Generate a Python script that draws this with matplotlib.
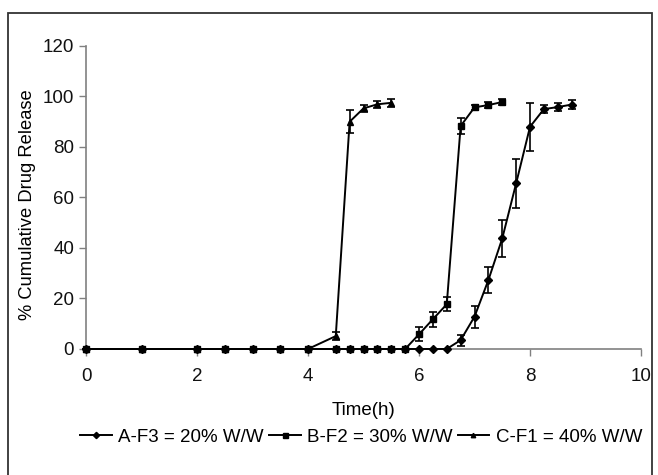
import matplotlib
matplotlib.use('Agg')
import matplotlib.pyplot as plt
from matplotlib.patches import Rectangle

plt.rcParams['font.family'] = ['Liberation Sans', 'DejaVu Sans']

##
##  d a t a
##
t_a = [0, 1, 2, 2.5, 3, 3.5, 4, 4.5, 4.75, 5, 5.25, 5.5, 5.75, 6, 6.25, 6.5,
       6.75, 7, 7.25, 7.5, 7.75, 8, 8.25, 8.5, 8.75]
rel_a = [0, 0, 0, 0, 0, 0, 0, 0, 0, 0, 0, 0, 0, 0, 0, 0,
         3.5, 12.8, 27.3, 43.8, 65.6, 88.0, 95.0, 95.8, 96.8]
err_a = [0, 0, 0, 0, 0, 0, 0, 0, 0, 0, 0, 0, 0, 0, 0, 0,
         2.2, 4.4, 5.2, 7.4, 9.6, 9.5, 1.5, 1.5, 1.8]

t_b = [0, 1, 2, 2.5, 3, 3.5, 4, 4.5, 4.75, 5, 5.25, 5.5, 5.75, 6, 6.25, 6.5,
       6.75, 7, 7.25, 7.5]
rel_b = [0, 0, 0, 0, 0, 0, 0, 0, 0, 0, 0, 0, 0,
         5.8, 11.8, 17.7, 88.3, 95.7, 96.6, 97.8]
err_b = [0, 0, 0, 0, 0, 0, 0, 0, 0, 0, 0, 0, 0,
         2.8, 3.0, 2.7, 3.0, 1.0, 1.2, 1.2]

t_c = [0, 1, 2, 2.5, 3, 3.5, 4, 4.5, 4.75, 5, 5.25, 5.5]
rel_c = [0, 0, 0, 0, 0, 0, 0, 5.1, 90.0, 95.3, 96.9, 97.5]
err_c = [0, 0, 0, 0, 0, 0, 0, 1.5, 4.5, 1.5, 1.5, 1.5]

labels = ['A-F3 = 20% W/W', 'B-F2 = 30% W/W', 'C-F1 = 40% W/W']

##
##  p l o t
##
fig = plt.figure(figsize=(6.58, 4.75), dpi=100)
ax = fig.add_axes([0.1307, 0.2653, 0.8435, 0.6379])

# outer frame round the figure (bottom edge falls off the picture)
fig.patches.append(Rectangle((8 / 658, -0.05), 644 / 658, 1 - 13 / 475 + 0.05,
                             transform=fig.transFigure, fill=False,
                             edgecolor='#333333', linewidth=1.3))

kw = dict(color='black', linewidth=1.4, elinewidth=1.2, capsize=3, capthick=1.2,
          zorder=5, clip_on=False)
ea = ax.errorbar(t_a, rel_a, yerr=err_a, marker='D', markersize=4, **kw)
eb = ax.errorbar(t_b, rel_b, yerr=err_b, marker='s', markersize=4.5, **kw)
ec = ax.errorbar(t_c, rel_c, yerr=err_c, marker='^', markersize=4, **kw)

ax.set_xlim(0, 10)
ax.set_ylim(0, 120)
ax.set_xticks([0, 2, 4, 6, 8, 10])
ax.set_yticks([0, 20, 40, 60, 80, 100, 120])

for s in ['top', 'right']:
    ax.spines[s].set_visible(False)
for s in ['left', 'bottom']:
    ax.spines[s].set_color('#808080')
    ax.spines[s].set_linewidth(1.2)
ax.tick_params(colors='#808080', labelcolor='#111111', labelsize=13.5, length=5, width=1)
ax.tick_params(axis='x', pad=9)

ax.set_xlabel('Time(h)', size=13.5)
ax.set_ylabel('% Cumulative Drug Release', size=13.2)
ax.xaxis.set_label_coords(0.5, -0.174)
ax.yaxis.set_label_coords(-0.09, 0.475)

# legend from the plain lines, no error bars in the keys
fig.legend([ea[0], eb[0], ec[0]], labels, loc='center', bbox_to_anchor=(0.549, 0.08),
           ncol=3, frameon=False, fontsize=13.5, handlelength=1.7,
           handletextpad=0.35, columnspacing=0.25, markerscale=0.8)

fig.savefig('out.png', dpi=100)
plt.close(fig)
